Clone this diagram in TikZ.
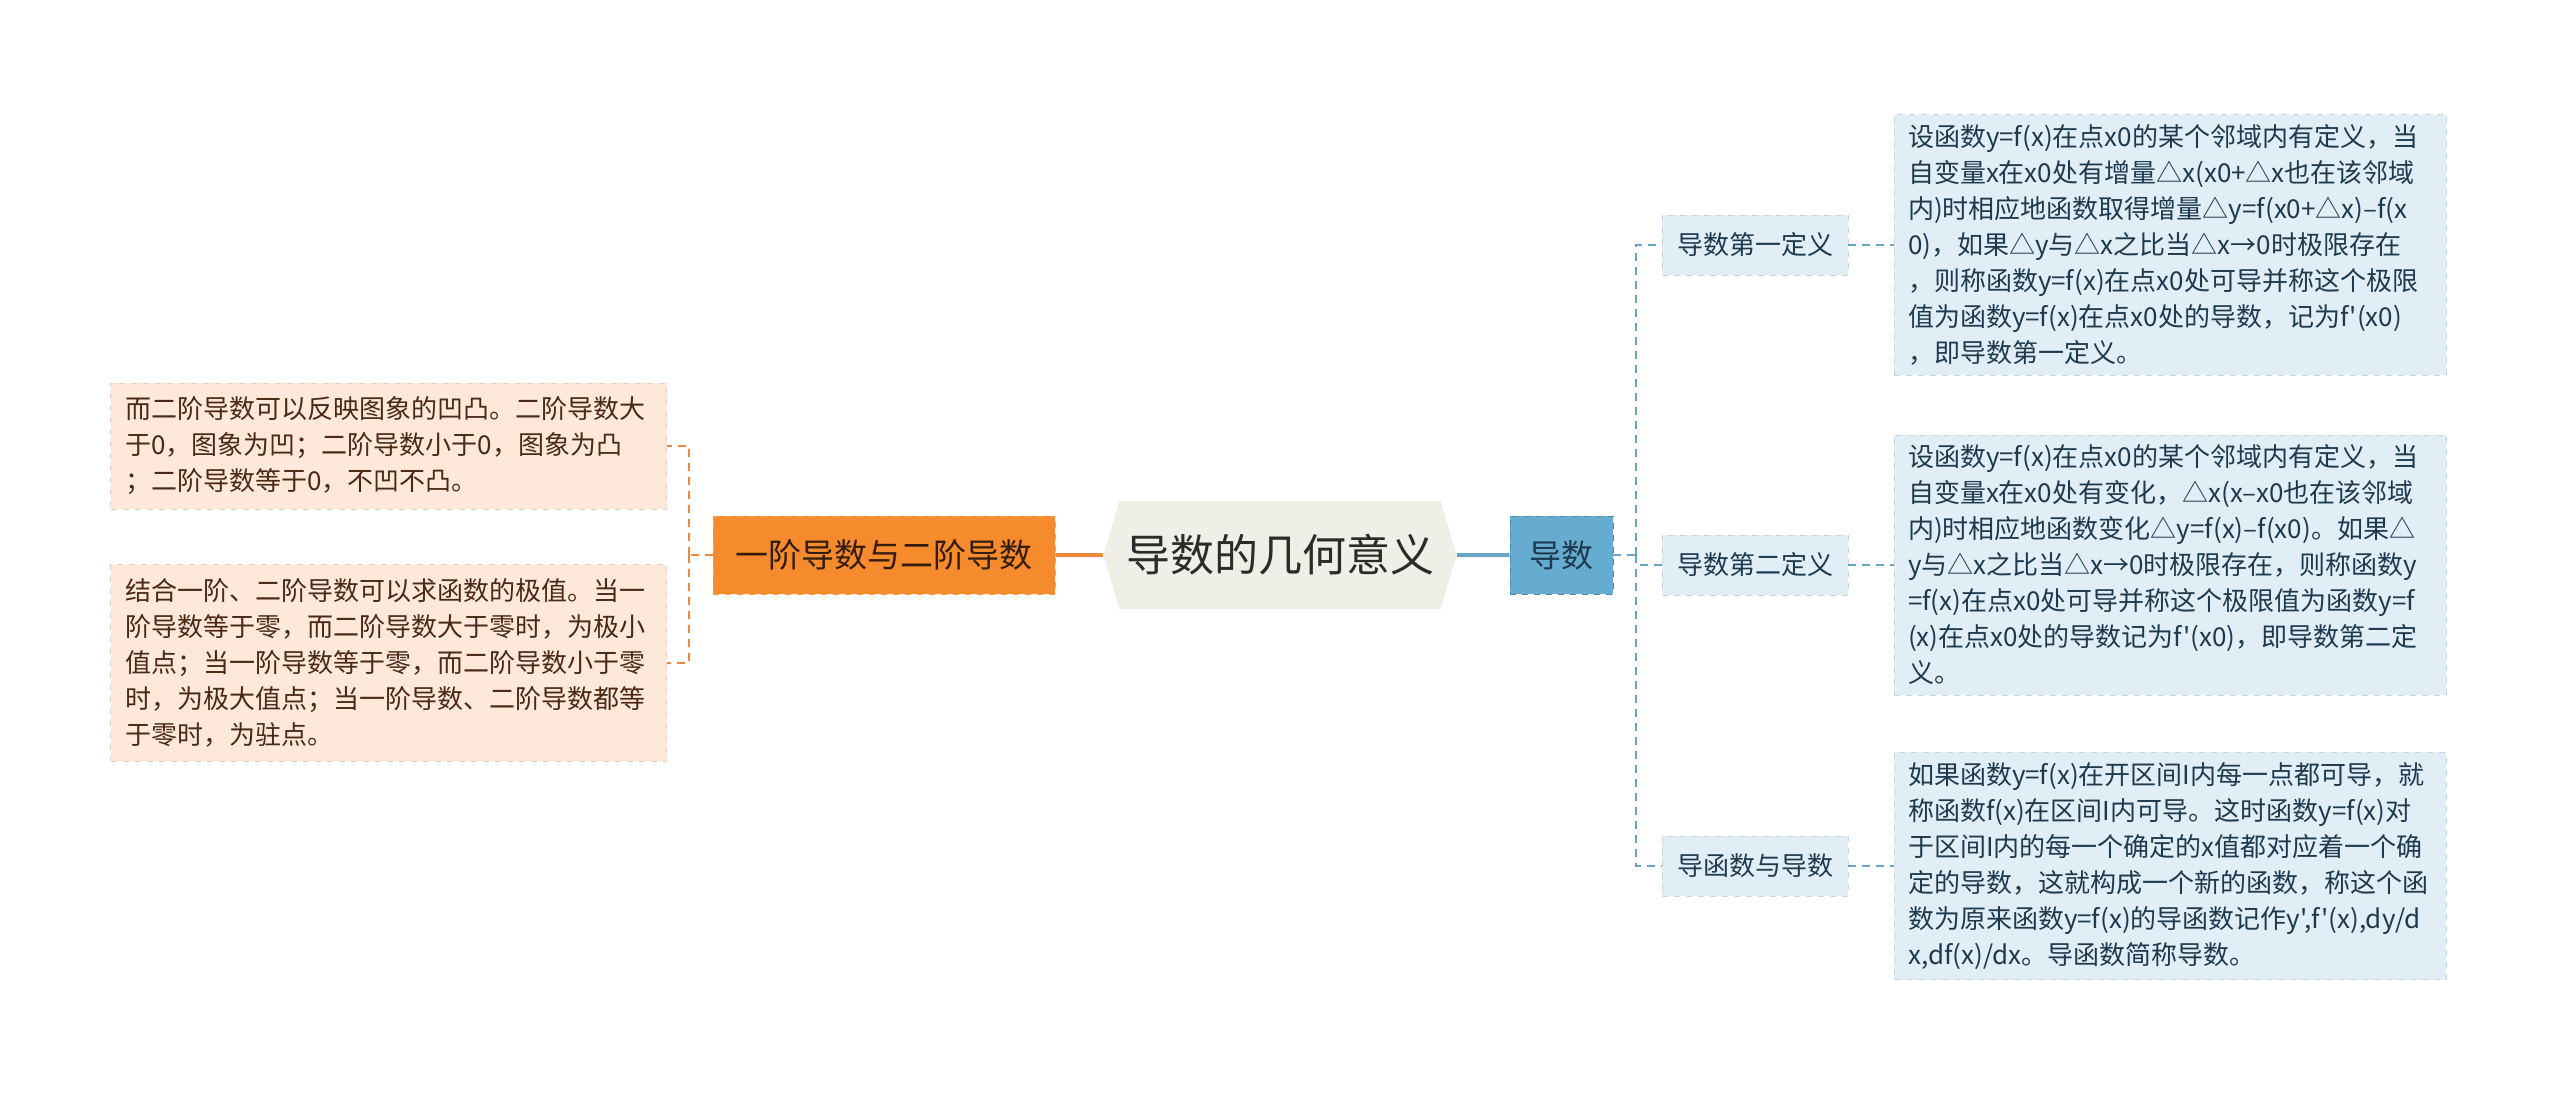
\documentclass[tikz,border=0pt]{standalone}
\usepackage{fontspec}
\setmainfont{Noto Sans CJK SC}[Ligatures=TeXOff]
\usetikzlibrary{shapes.symbols,positioning}

\definecolor{rootbg}{HTML}{EFEFE7}
\definecolor{rootfg}{HTML}{2B2B2B}
\definecolor{orangebg}{HTML}{F68B2D}
\definecolor{orangeline}{HTML}{E98A3C}
\definecolor{peachbg}{HTML}{FDE8DA}
\definecolor{brownfg}{HTML}{4A2A14}
\definecolor{bluebg}{HTML}{66ABD0}
\definecolor{blueline}{HTML}{6AA5C6}
\definecolor{palebg}{HTML}{E1EEF6}
\definecolor{navyfg}{HTML}{1E3A4E}

\begin{document}
\begin{tikzpicture}[x=0.5pt, y=-0.5pt, node distance=207.5pt]
    \tikzstyle{root} = [signal, signal to=west and east, signal pointer angle=147, fill=rootbg, minimum width=176pt, minimum height=54pt, text=rootfg, font=\fontsize{22}{26}\selectfont]
    \tikzstyle{orangebox} = [rectangle, fill=orangebg, draw=orangebg!80!white, dashed, minimum width=171pt, minimum height=39pt, text=brownfg!70!black, font=\fontsize{16.5}{20}\selectfont]
    \tikzstyle{bluebox} = [rectangle, fill=bluebg, draw=bluebg!80!black, dashed, minimum width=51.5pt, minimum height=39pt, text=navyfg, font=\fontsize{16}{20}\selectfont]
    \tikzstyle{sub} = [rectangle, fill=palebg, draw=palebg!90!black, dashed, minimum width=93pt, minimum height=30pt, text=navyfg, font=\fontsize{13}{16}\selectfont]
    \tikzstyle{bluetext} = [rectangle, fill=palebg, draw=palebg!90!black, dashed, text width=262pt, inner xsep=7pt, inner ysep=5pt, align=left, text=navyfg, font=\fontsize{13}{18}\selectfont]
    \tikzstyle{peachtext} = [rectangle, fill=peachbg, draw=peachbg!90!black, dashed, text width=263pt, inner xsep=7.5pt, inner ysep=7pt, align=left, text=brownfg, font=\fontsize{13}{18}\selectfont]
    \tikzstyle{rline} = [draw=blueline, line width=0.9pt, dash pattern=on 4pt off 3pt]
    \tikzstyle{lline} = [draw=orangeline, line width=0.9pt, dash pattern=on 4pt off 3pt]

    \useasboundingbox (0,0) rectangle (2560,1094);

    % centre and first level
    \node[root] (root) at (1280,555) {导数的几何意义};
    \node[bluebox] (deriv) at (1561.5,555) {导数};
    \node[orangebox] (order) at (884,555) {一阶导数与二阶导数};

    % right branch
    \node[sub] (def1) at (1755,245) {导数第一定义};
    \node[sub] (def2) at (1755,565) {导数第二定义};
    \node[sub] (dfun) at (1755,866) {导函数与导数};

    \node[bluetext, right of=def1] (def1txt) {设函数y=f(x)在点x0的某个邻域内有定义，当\\自变量x在x0处有增量△x(x0+△x也在该邻域\\内)时相应地函数取得增量△y=f(x0+△x)–f(x\\0)，如果△y与△x之比当△x→0时极限存在\\，则称函数y=f(x)在点x0处可导并称这个极限\\值为函数y=f(x)在点x0处的导数，记为f'(x0)\\，即导数第一定义。};
    \node[bluetext, right of=def2] (def2txt) {设函数y=f(x)在点x0的某个邻域内有定义，当\\自变量x在x0处有变化，△x(x–x0也在该邻域\\内)时相应地函数变化△y=f(x)–f(x0)。如果△\\y与△x之比当△x→0时极限存在，则称函数y\\=f(x)在点x0处可导并称这个极限值为函数y=f\\(x)在点x0处的导数记为f'(x0)，即导数第二定\\义。};
    \node[bluetext, right of=dfun] (dfuntxt) {如果函数y=f(x)在开区间I内每一点都可导，就\\称函数f(x)在区间I内可导。这时函数y=f(x)对\\于区间I内的每一个确定的x值都对应着一个确\\定的导数，这就构成一个新的函数，称这个函\\数为原来函数y=f(x)的导函数记作y',f'(x),dy/d\\x,df(x)/dx。导函数简称导数。};

    % left branch
    \node[peachtext] (convex) at (388.5,446) {而二阶导数可以反映图象的凹凸。二阶导数大\\于0，图象为凹；二阶导数小于0，图象为凸\\；二阶导数等于0，不凹不凸。};
    \node[peachtext] (extreme) at (388.5,663) {结合一阶、二阶导数可以求函数的极值。当一\\阶导数等于零，而二阶导数大于零时，为极小\\值点；当一阶导数等于零，而二阶导数小于零\\时，为极大值点；当一阶导数、二阶导数都等\\于零时，为驻点。};

    % connectors
    \draw[blueline, line width=2pt] (root) -- (deriv);
    \draw[orangeline, line width=2pt] (root) -- (order);

    \coordinate (rfork) at (1636,555);
    \draw[rline] (deriv) -- (rfork);
    \foreach \n in {def1,def2,dfun} {
        \draw[rline] (rfork) |- (\n);
        \draw[rline] (\n) -- (\n txt);
    }

    \coordinate (lfork) at (689,555);
    \draw[lline] (order) -- (lfork);
    \foreach \n in {convex,extreme}
        \draw[lline] (lfork) |- (\n);
\end{tikzpicture}
\end{document}
